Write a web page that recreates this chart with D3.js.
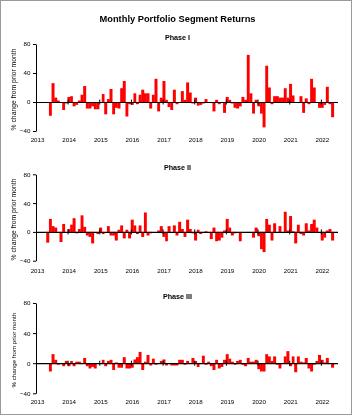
<!DOCTYPE html>
<html>
<head>
<meta charset="utf-8">
<script src="https://cdn.jsdelivr.net/npm/d3@7"></script>
<style>
  html, body { margin: 0; padding: 0; background: #fff; }
  svg { display: block; will-change: transform; }
  text { font-family: "Liberation Sans", Arial, Helvetica, sans-serif; fill: #000; }
</style>
</head>
<body>
<svg id="chart" width="355" height="416"></svg>
<script>
// ---- data (monthly values, first month = May 2013) ----
const startYear = 2013;
const startMonth = 4; // May (0-based)
const chartTitle = "Monthly Portfolio Segment Returns";
const panelTitles = ["Phase I", "Phase II", "Phase III"];
const yAxisTitle = "% change from prior month";
const yTicks = [-40, 0, 40, 80];
const yearLabels = [2013, 2014, 2015, 2016, 2017, 2018, 2019, 2020, 2021, 2022];

const phase1 = [
  0, -19, 26, 6, 2, 0, -11, -2,                 // 2013 May-Dec
  7, 8, -6, -4, 2, 10, 22, -9, -9, -6, -10, -10, // 2014
  -1, 11, -17, 4, 18, -17, -8, -9, 19, 29, -20, -3, // 2015
  -4, 12, -3, 10, 17, 12, 12, -9, 10, 32, -13, 6, // 2016
  29, 3, -7, -11, 17, -3, 0, 15, 3, 27, 13, -2, // 2017
  6, -5, -4, -2, 4, 0, 0, -13, 3, -3, 0, -15,  // 2018
  7, 3, -2, -8, -9, -6, 7, 3, 65, 12, -16, 3,  // 2019
  -6, -16, -35, 50, 20, -3, 8, 8, 6, 6, 19, 6, // 2020
  25, 9, 0, 0, 8, -15, 5, -3, 32, 20, 0, -8,   // 2021
  -8, -4, 21, -3, -21                          // 2022 Jan-May
];
const phase2 = [
  -15, 18, 8, 6, 0, -14, 11, 0,
  4, 10, 19, -2, 4, 23, 7, -5, -7, -16, 0, -3,
  6, -3, 0, 8, -5, -5, -12, 3, 9, -9, 3, -9,
  17, 9, -3, 9, -7, 27, -5, -2, 0, 0, 2, 8,
  -7, -13, 8, 0, 9, -5, 14, 4, -7, 17, 4, -2,
  -12, 3, -3, 0, 1, 0, -10, 6, -13, -12, -8, 2,
  18, 6, -5, -2, 0, -13, 0, 0, -1, 0, -8, 6,
  -6, -24, -28, 18, 10, -12, 12, 0, 8, 0, 28, 2,
  22, 1, -16, 10, -3, -5, 12, 2, 11, 17, 6, 0,
  -12, -8, 2, 4, -12
];
const phase3 = [
  0, -11, 12, 4.5, -2, 0, -4, 3,
  -4, 3, -4, 2, 2, 0, 7, -4, -7, -5, -7, 0,
  0, 4.5, -4, 3, 4.5, -9, 1, -6, -6, 8, -7, -7,
  -6, 5, 8, 15, -9, 2, 11, -3, 6, -2, 0, 3,
  5, -3, 0, -3, -3, -3, 4.5, 4.5, -2, 3, 0, 7,
  3, -5, 0, 10, -2, 2, -4, -9, 4.5, -7, -5, 4.5,
  12, 6, 2, -2, 3, 4.5, -2, -4, 7, 2, 2, 4.5,
  -8, -11, -11, 12, 9, 3, 9, -2, -7, 0, 9, 16,
  -4, 9, -12, 9, 2, 1, 7, -7, -11, -2, 3, 11,
  4.5, 1, 7, 0, -6
];
const series = [phase1, phase2, phase3];

// ---- layout ----
const svg = d3.select("#chart");
const left = 36, right = 337.5;

svg.append("rect")
  .attr("x", 0.5).attr("y", 0.5)
  .attr("width", 351).attr("height", 414)
  .attr("fill", "#fff").attr("stroke", "#9a9a9a").attr("stroke-width", 1);

svg.append("text")
  .attr("x", 177.5).attr("y", 22)
  .attr("text-anchor", "middle")
  .attr("font-size", 9.3).attr("font-weight", "bold")
  .text(chartTitle);

const x = d3.scaleTime()
  .domain([new Date(2013, 0, 1), new Date(2022, 6, 12)])
  .range([left, right]);

const geo = [
  { top: 44, bottom: 131, titleY: 39.5, labelTop: 137.3, ytFont: 6.8 },
  { top: 174.3, bottom: 260.7, titleY: 169.5, labelTop: 268.8, ytFont: 6.8 },
  { top: 303, bottom: 393.3, titleY: 298.5, labelTop: 399.7, ytFont: 6.2 }
];

series.forEach((vals, i) => {
  const g = geo[i];
  const y = d3.scaleLinear().domain([-40, 80]).range([g.bottom, g.top]);
  const pg = svg.append("g");

  const data = vals.map((v, k) => ({
    date: new Date(startYear, startMonth + k, 1),
    next: new Date(startYear, startMonth + k + 1, 1),
    v
  })).filter(d => d.v !== 0);

  pg.append("g").selectAll("rect").data(data).join("rect")
    .attr("x", d => x(d.date) - 0.15)
    .attr("width", d => x(d.next) - x(d.date) + 0.3)
    .attr("y", d => y(Math.max(0, d.v)))
    .attr("height", d => Math.abs(y(d.v) - y(0)))
    .attr("fill", "#ff0000");

  // panel title
  pg.append("text")
    .attr("x", 177.5).attr("y", g.titleY)
    .attr("text-anchor", "middle")
    .attr("font-size", 7.2).attr("font-weight", "bold")
    .text(panelTitles[i]);

  // y axis
  const ya = pg.append("g")
    .attr("transform", `translate(${left},0)`)
    .call(d3.axisLeft(y).tickValues(yTicks).tickSize(3).tickSizeOuter(0).tickPadding(2.5)
      .tickFormat(d3.format("d")));
  ya.selectAll("text").attr("font-size", 6.2).attr("font-family", null);
  ya.select(".domain").attr("stroke", "#000").attr("stroke-width", 1);
  ya.selectAll(".tick line").attr("stroke", "#000");

  // zero line with year ticks
  const za = pg.append("g")
    .attr("transform", `translate(0,${y(0)})`)
    .call(d3.axisBottom(x)
      .tickValues(yearLabels.slice(1).map(yr => new Date(yr, 0, 1)))
      .tickSize(2.5).tickSizeOuter(0).tickFormat(""));
  za.select(".domain").attr("stroke", "#000").attr("stroke-width", 1.2);
  za.selectAll(".tick line").attr("y1", -2.5).attr("y2", 2.5).attr("stroke", "#000").attr("stroke-width", 1);

  // year labels at bottom
  const la = pg.append("g")
    .attr("transform", `translate(0,${g.labelTop})`)
    .call(d3.axisBottom(x)
      .tickValues(yearLabels.map(yr => new Date(yr, 0, 1)))
      .tickSize(0).tickPadding(0).tickFormat(d3.timeFormat("%Y")));
  la.select(".domain").remove();
  la.selectAll("text").attr("font-size", 6.2).attr("font-family", null).attr("dx", 1);

  // y axis title
  pg.append("text")
    .attr("transform", `translate(16,${(g.top + g.bottom) / 2 + 2}) rotate(-90)`)
    .attr("text-anchor", "middle")
    .attr("font-size", g.ytFont)
    .text(yAxisTitle);
});
</script>
</body>
</html>
